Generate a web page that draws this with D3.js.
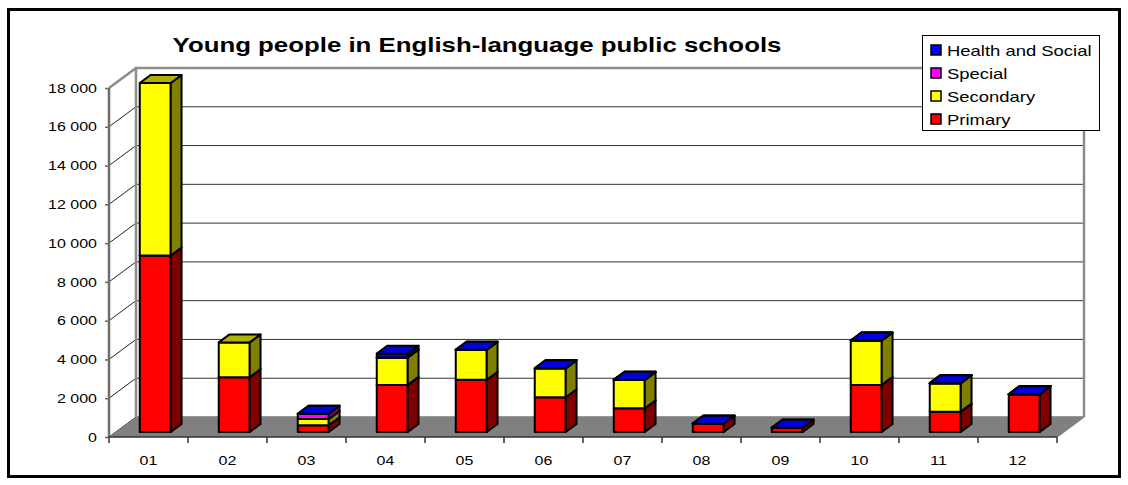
<!DOCTYPE html>
<html><head><meta charset="utf-8">
<script src="https://cdn.jsdelivr.net/npm/d3@7"></script>
<style>
html,body{margin:0;padding:0;background:#fff;}
svg{display:block;font-family:"Liberation Sans",Arial,sans-serif;}
</style></head>
<body>
<svg id="chart" width="1128" height="485"></svg>
<script>
// ---- data ----
const categories = ["01","02","03","04","05","06","07","08","09","10","11","12"];
const primary    = [9100, 2830, 350, 2430, 2690, 1790, 1220, 430, 220, 2430, 1050, 1950];
const secondary  = [8900, 1790, 320, 1410, 1550, 1500, 1470,   0,   0, 2290, 1470,    0];
const special    = [null, null, 270,    0,    0,    0,    0,   0,   0,    0,    0,    0];
const health     = [null, null,   0,  200,    0,    0,    0,   0,   0,    0,    0,    0];
const seriesNames = ["Primary","Secondary","Special","Health and Social"];
const yTicks = [0,2000,4000,6000,8000,10000,12000,14000,16000,18000];
const title = "Young people in English-language public schools";

// ---- styles ----
const colors = {
  "Primary":          {front:"#FF0000", side:"#800000", top:"#C00000"},
  "Secondary":        {front:"#FFFF00", side:"#808000", top:"#B0B000"},
  "Special":          {front:"#FF00FF", side:"#800080", top:"#C000C0"},
  "Health and Social":{front:"#0000FF", side:"#000080", top:"#0000E0"}
};
const SX = 1.23;              // horizontal text stretch of the original
const wallDx = 27, wallDy = 20;
const d0 = 0.25, d1 = 0.65;   // bar depth span (fraction of wall depth)

const svg = d3.select("#chart");
const x = d3.scaleBand().domain(categories).range([109, 1057]);
const y = d3.scaleLinear().domain([0, 18000]).range([437, 88]);
const fmt = d3.formatLocale({decimal:",", thousands:"\u00a0", grouping:[3], currency:["",""]}).format(",");

// outer frame
svg.append("rect").attr("x",8.5).attr("y",9.5).attr("width",1111).attr("height",467)
  .attr("fill","#fff").attr("stroke","#000").attr("stroke-width",3);

// title
svg.append("text").attr("transform",`translate(477,52) scale(${SX},1)`)
  .attr("text-anchor","middle").attr("font-size",21).attr("font-weight","bold").text(title);

const [x0, x1] = x.range();
const yTop = y(18000), yBot = y(0);

// back wall gridlines
svg.append("g").selectAll("line").data(yTicks).join("line")
  .attr("x1", x0 + wallDx).attr("x2", x1 + wallDx)
  .attr("y1", d => y(d) - wallDy).attr("y2", d => y(d) - wallDy)
  .attr("stroke","#333").attr("stroke-width",1);
// side wall diagonal gridlines
svg.append("g").selectAll("line").data(yTicks).join("line")
  .attr("x1", x0).attr("x2", x0 + wallDx)
  .attr("y1", d => y(d)).attr("y2", d => y(d) - wallDy)
  .attr("stroke","#222").attr("stroke-width",1);

// floor
svg.append("path")
  .attr("d", `M${x0},${yBot}L${x1},${yBot}L${x1+wallDx},${yBot-wallDy}L${x0+wallDx},${yBot-wallDy}Z`)
  .attr("fill","#808080").attr("stroke","none");

// wall outlines
svg.append("path")
  .attr("d", `M${x0+wallDx},${yBot-wallDy}L${x0+wallDx},${yTop-wallDy}L${x1+wallDx},${yTop-wallDy}L${x1+wallDx},${yBot-wallDy}`)
  .attr("fill","none").attr("stroke","#8c8c8c").attr("stroke-width",2.5);
svg.append("line").attr("x1",x0).attr("y1",yTop).attr("x2",x0+wallDx).attr("y2",yTop-wallDy)
  .attr("stroke","#8c8c8c").attr("stroke-width",2.5);
// floor right edge
svg.append("line").attr("x1",x1).attr("y1",yBot).attr("x2",x1+wallDx).attr("y2",yBot-wallDy)
  .attr("stroke","#808080").attr("stroke-width",1.5);

// y axis
const yAxis = svg.append("g").attr("transform",`translate(${x0},0)`)
  .call(d3.axisLeft(y).tickValues(yTicks).tickFormat(fmt).tickSizeInner(4).tickSizeOuter(0).tickPadding(5.8));
yAxis.select(".domain").remove();
yAxis.selectAll(".tick line").attr("stroke","#666").attr("stroke-width",1.5);
yAxis.selectAll(".tick text").attr("font-size",13).attr("font-family","Liberation Sans, Arial, sans-serif")
  .attr("fill","#000").attr("transform",`scale(${SX},1)`);
svg.append("line").attr("x1",x0).attr("x2",x0).attr("y1",yTop).attr("y2",yBot)
  .attr("stroke","#6e6e6e").attr("stroke-width",2.5);

// x axis
const xAxis = svg.append("g").attr("transform",`translate(0,${yBot})`)
  .call(d3.axisBottom(x).tickSizeInner(0).tickSizeOuter(0).tickPadding(19));
xAxis.select(".domain").remove();
xAxis.selectAll(".tick text").attr("font-size",13).attr("font-family","Liberation Sans, Arial, sans-serif")
  .attr("fill","#000").attr("transform",`scale(${SX},1)`);
svg.append("line").attr("x1",x0).attr("x2",x1).attr("y1",yBot).attr("y2",yBot)
  .attr("stroke","#333").attr("stroke-width",1.5);
const bounds = categories.map(c => x(c)).concat([x1]);
svg.append("g").selectAll("line").data(bounds).join("line")
  .attr("x1",d=>d).attr("x2",d=>d).attr("y1",yBot).attr("y2",yBot+6)
  .attr("stroke","#333").attr("stroke-width",1.5);

// bars
const seriesVals = [primary, secondary, special, health];
const barW = 31;
const fdx = d0*wallDx, fdy = -d0*wallDy;
const bdx = (d1-d0)*wallDx, bdy = -(d1-d0)*wallDy;
const gBars = svg.append("g");
categories.forEach((c, i) => {
  const xl = x(c) + x.bandwidth()/2 - barW/2 + fdx;
  const xr = xl + barW;
  let cum = 0;
  seriesVals.forEach((vals, s) => {
    const v = vals[i];
    if (v === null || v === undefined) return;
    const col = colors[seriesNames[s]];
    const ya = y(cum) + fdy, yb = y(cum + v) + fdy;
    cum += v;
    const g = gBars.append("g").attr("stroke","#000").attr("stroke-width",2).attr("stroke-linejoin","round");
    g.append("path").attr("d",`M${xl},${ya}L${xr},${ya}L${xr},${yb}L${xl},${yb}Z`).attr("fill",col.front);
    g.append("path").attr("d",`M${xr},${ya}L${xr+bdx},${ya+bdy}L${xr+bdx},${yb+bdy}L${xr},${yb}Z`).attr("fill",col.side);
    g.append("path").attr("d",`M${xl},${yb}L${xr},${yb}L${xr+bdx},${yb+bdy}L${xl+bdx},${yb+bdy}Z`).attr("fill",col.top);
  });
});

// legend
const leg = svg.append("g");
leg.append("rect").attr("x",922.5).attr("y",35.5).attr("width",177).attr("height",95)
  .attr("fill","#fff").attr("stroke","#000").attr("stroke-width",1);
const legOrder = seriesNames.slice().reverse();
legOrder.forEach((n, k) => {
  const cy = 50 + k*23;
  leg.append("rect").attr("x",931).attr("y",cy-5).attr("width",10).attr("height",10)
    .attr("fill",colors[n].front).attr("stroke","#000").attr("stroke-width",1.5);
  leg.append("text").attr("transform",`translate(947,${cy+5.5}) scale(${SX},1)`)
    .attr("font-size",15).text(n);
});
</script>
</body></html>
